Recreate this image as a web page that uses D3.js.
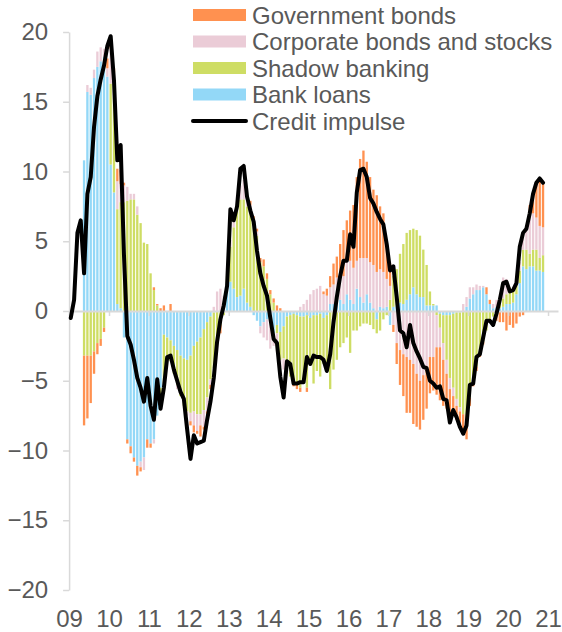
<!DOCTYPE html>
<html><head><meta charset="utf-8">
<script src="https://cdn.jsdelivr.net/npm/d3@7"></script>
<style>
body{margin:0;background:#fff}
svg{display:block}
text{font-family:"Liberation Sans",Arial,sans-serif;fill:#595959}
</style>
</head><body>
<svg id="chart" width="562" height="632"></svg>
<script>
// ---- data (monthly, Jan 2009 .. Nov 2020), % of GDP ----
const yearLabels = ["09","10","11","12","13","14","15","16","17","18","19","20","21"];
const yTicks = [-20,-15,-10,-5,0,5,10,15,20];

const bankLoans = [null,null,null,null,
10.8,15.7,15.5,16.7,17.5,17.9,18.2,16.8,
10.5,8.5,0.5,0.2,-1.9,-9.2,-9.7,-10.5,-11.1,-10.8,-10.5,-9.2,
-9.5,-9.2,-7.5,-5.5,-1.7,-1.9,-2.1,-2.5,-2.8,-3.2,-3.4,-3.5,
-3.2,-2.5,-2.2,-1.9,-1.3,-0.8,-0.4,-0.1,0,0,0.2,2.0,
2.1,1.6,1.0,1.1,1.6,0.6,0.3,-0.3,-0.7,-1.1,-0.8,-0.6,
-0.9,-1.6,-1.0,-1.5,-1.1,-0.4,-0.3,-0.2,-0.3,-0.4,-0.4,-0.3,
-0.5,-0.3,-0.3,-0.2,-0.5,-0.3,0.5,0.5,0.6,0.8,0.5,1.2,
0.8,0.5,1.6,1.0,0.6,1.2,0.6,0.2,-0.6,0.3,0.2,0.3,
-1.0,0.3,0.4,0.6,0.5,0.8,1.2,1.7,1.2,1.0,1.0,0.4,
0.4,0.4,0.4,-0.2,-0.3,-0.3,-0.3,-0.2,-0.1,-0.1,0,0.3,
0.9,1.2,1.5,1.5,1.7,1.2,0.5,0.2,0.3,0.2,0.3,0.5,
0.5,0.6,1.2,2.0,3.2,3.0,3.2,3.2,2.9,2.9,2.8];

const shadowBanking = [null,null,null,null,
-3.2,-3.2,-3.2,-2.9,-2.3,-2.0,-1.2,0,
5.8,6.8,6.8,7.6,7.8,7.9,8.0,8.0,6.9,6.3,4.9,4.8,
2.7,1.5,0.4,-0.8,-3.5,-1.3,-1.5,-2.0,-2.5,-2.9,-3.4,-3.7,
-4.1,-4.7,-5.2,-5.5,-5.8,-5.4,-4.5,-4.0,-2.4,-1.0,-0.3,0.5,
2.5,4.4,6.4,6.9,6.4,6.9,6.7,6.0,5.4,3.5,3.2,2.3,
1.2,0.6,-0.6,-2.0,-2.3,-3.8,-4.4,-4.6,-4.8,-5.1,-4.6,-5.2,
-3.3,-4.9,-4.0,-4.5,-3.3,-3.7,-5.6,-4.2,-3.5,-2.6,-2.3,-1.9,
-3.0,-1.4,-1.4,-1.1,-0.9,-0.9,-1.0,-1.3,-1.0,-1.4,-0.6,-0.3,
0.8,2.2,2.6,3.5,4.3,4.8,4.6,4.2,4.6,4.4,3.4,2.9,
1.0,0.1,-0.3,-1.0,-2.0,-3.2,-4.5,-5.3,-6.2,-6.8,-7.4,-8.0,
-6.2,-5.0,-4.0,-3.0,-2.2,-1.4,-0.8,-0.4,-0.2,0.3,0.6,0.7,
1.2,0.9,1.3,0.9,1.2,1.4,0.9,1.2,1.5,0.9,1.2];

const corporateBonds = [null,null,null,null,
0,0.5,0.5,0.6,1.1,1.0,0.6,0.6,
2.5,1.8,2.0,1.3,1.2,1.0,0.4,0.4,0.6,-0.4,-0.9,0,
0,-0.3,0,0,0,-0.3,0,0,-0.3,0,0,-0.3,
-0.6,-1.0,-1.2,-0.8,-1.2,-1.0,-0.4,0.3,1.4,1.6,0.9,0.6,
0.5,0.8,0.9,1.0,1.4,1.2,0.6,0.3,0.3,-0.5,-1.1,-1.5,
-1.8,-0.9,-1.3,-0.5,-0.8,-0.3,0,0,0,0.3,0.5,0.8,
1.2,1.5,1.6,1.8,1.2,1.1,1.2,1.4,1.8,1.6,2.0,2.4,
2.8,2.6,2.0,2.8,3.2,2.6,2.9,3.1,2.8,2.7,2.6,2.0,
1.0,-1.0,-2.3,-2.8,-3.1,-3.3,-3.5,-3.8,-4.5,-5.0,-4.6,-4.0,
-3.3,-3.3,-2.3,-1.4,-1.2,-1.0,-0.8,-0.6,-0.5,-0.3,0.5,0.7,
0.8,0.5,0.4,0.3,0.1,0,0,0.3,0.5,0.3,1.5,1.1,
0,0,0,0.6,1.2,1.6,2.6,2.6,2.3,2.3,2.0];

const governmentBonds = [null,null,null,null,
-5.0,-4.5,-3.4,-1.6,-0.8,-0.5,-0.3,0.7,
0.3,0.3,0.9,1.0,0.2,-0.3,-0.5,-0.3,-0.7,-0.3,0,-0.6,
-0.3,0.2,0.1,0.2,0.4,0,0.5,0,0,0,0,0,
-0.3,-0.5,-0.2,-0.8,-0.2,-0.2,-0.3,0,0,-0.6,0,0,
0,0,0,0,0,0,0.3,0.5,0.2,0.3,0.5,0.4,
0.3,0.3,0.4,0.2,0,0,0,-0.6,-0.5,-0.3,0,-0.3,
0,0,0,0,0.2,0.5,0.8,1.5,1.5,2.4,3.3,2.9,
3.6,4.5,6.0,7.1,7.7,6.9,6.1,5.4,5.5,4.5,4.2,2.8,
1.6,-0.5,-1.5,-2.5,-3.0,-4.0,-3.8,-4.3,-3.8,-3.5,-3.2,-3.0,
-2.6,-2.4,-3.4,-3.8,-3.3,-2.5,-1.8,-1.4,-1.0,-1.1,-1.2,-1.2,
-0.6,-0.4,-0.3,-0.3,-0.2,0.5,0.3,0,-0.5,-0.8,-0.8,-1.4,
-1.0,-1.2,-0.9,-0.4,-0.3,0,0.9,1.4,2.4,3.2,3.1];

const creditImpulse = [
-0.5,0.8,5.6,6.5,2.7,8.4,9.6,13.2,15.4,16.6,17.6,19.0,
19.7,16.5,10.8,11.9,4.0,-1.8,-2.4,-3.5,-4.8,-5.5,-6.5,-4.8,
-6.8,-7.8,-4.9,-7.0,-5.5,-3.3,-3.2,-4.2,-5.0,-5.8,-6.3,-8.5,
-10.6,-8.9,-9.5,-9.4,-9.3,-7.8,-6.5,-4.8,-2.2,-0.6,0.4,1.8,
7.3,6.5,7.5,10.2,10.4,8.2,7.2,6.4,4.3,2.7,1.8,1.1,
-0.5,-2.0,-2.3,-4.7,-6.2,-3.6,-3.8,-5.2,-5.2,-5.1,-5.1,-3.3,
-3.8,-3.2,-3.3,-3.3,-3.5,-4.3,-3.1,-0.8,1.0,2.5,3.6,3.6,
5.5,4.6,8.5,10.1,10.2,9.6,8.1,7.7,7.1,6.6,6.2,4.8,
2.9,3.2,1.0,-1.4,-1.6,-2.6,-1.0,-2.3,-2.9,-3.4,-4.0,-4.1,
-5.0,-5.2,-5.5,-5.4,-6.3,-6.4,-8.0,-7.1,-7.6,-8.3,-8.8,-8.2,
-5.3,-5.2,-3.3,-3.1,-1.9,-0.7,-0.7,-1.0,-0.2,0.8,2.0,2.1,
1.4,1.5,2.0,4.6,5.6,5.9,7.0,8.4,9.2,9.5,9.2];

const seriesNames = ["Government bonds","Corporate bonds and stocks","Shadow banking","Bank loans","Credit impulse"];
const seriesColors = ["#FF9150","#EBCCD7","#CEDD64","#93D8F7","#000000"];

// ---- layout ----
const svg = d3.select("#chart");
const nSlots = 147;               // Jan 2009 .. Mar 2021 slots on the axis
const x0 = 69.1, x1 = 558;
const xLin = d3.scaleLinear().domain([0, nSlots]).range([x0, x1]);
const xBand = d3.scaleBand().domain(d3.range(nSlots)).range([x0, x1]).paddingInner(0.3).paddingOuter(0.15);
const y = d3.scaleLinear().domain([-20, 20]).range([590, 32]);

// ---- stacked bars ----
const rows = bankLoans.map((b, i) => ({
  i, B: b, S: shadowBanking[i], C: corporateBonds[i], G: governmentBonds[i]
})).filter(r => r.B !== null);
const keys = ["B","S","C","G"];
const keyColor = {B: seriesColors[3], S: seriesColors[2], C: seriesColors[1], G: seriesColors[0]};
const stacked = d3.stack().keys(keys).offset(d3.stackOffsetDiverging)(rows);

svg.append("g").selectAll("g").data(stacked).join("g")
  .attr("fill", s => keyColor[s.key])
  .selectAll("rect").data(s => s.filter(d => d[1] !== d[0])).join("rect")
  .attr("x", d => xBand(d.data.i))
  .attr("width", xBand.bandwidth())
  .attr("y", d => y(Math.max(d[0], d[1])))
  .attr("height", d => Math.abs(y(d[0]) - y(d[1])));

// ---- axes ----
const axisColor = "#D9D9D9";
const fs = "24px";

const xAxis = svg.append("g").attr("transform", `translate(0,${y(0)})`)
  .call(d3.axisBottom(xLin).tickValues(d3.range(0, nSlots, 12)).tickSize(5).tickSizeOuter(0).tickFormat(""));
xAxis.select(".domain").attr("stroke", axisColor).attr("stroke-width", 2);
xAxis.selectAll(".tick line").attr("stroke", axisColor).attr("stroke-width", 1.5);

const xLabels = svg.append("g").attr("transform", `translate(0,${y(-20)})`)
  .call(d3.axisBottom(xLin).tickValues(d3.range(0, nSlots, 12)).tickSize(0).tickPadding(20)
    .tickFormat((d, k) => yearLabels[k]));
xLabels.select(".domain").remove();
xLabels.selectAll("text").attr("font-size", fs).attr("fill", "#595959")
  .attr("font-family", '"Liberation Sans",Arial,sans-serif');

const yAxis = svg.append("g").attr("transform", `translate(${x0},0)`)
  .call(d3.axisLeft(y).tickValues(yTicks).tickSize(6).tickSizeOuter(0).tickPadding(15));
yAxis.select(".domain").attr("stroke", axisColor).attr("stroke-width", 1.5);
yAxis.selectAll(".tick line").attr("stroke", axisColor).attr("stroke-width", 1.5);
yAxis.selectAll("text").attr("font-size", fs).attr("fill", "#595959")
  .attr("font-family", '"Liberation Sans",Arial,sans-serif');

// ---- credit impulse line ----
const line = d3.line().x((v, i) => xBand(i) + xBand.bandwidth() / 2).y(v => y(v));
svg.append("path").datum(creditImpulse)
  .attr("d", line).attr("fill", "none").attr("stroke", "#000")
  .attr("stroke-width", 4).attr("stroke-linejoin", "round").attr("stroke-linecap", "round");

// ---- legend ----
const lg = svg.append("g");
seriesNames.forEach((name, k) => {
  const cy = 15 + 26.5 * k;
  if (k < 4) {
    lg.append("rect").attr("x", 193).attr("y", cy - 6).attr("width", 53).attr("height", 12).attr("fill", seriesColors[k]);
  } else {
    lg.append("line").attr("x1", 193).attr("x2", 246).attr("y1", cy).attr("y2", cy)
      .attr("stroke", seriesColors[k]).attr("stroke-width", 4).attr("stroke-linecap", "round");
  }
  lg.append("text").attr("x", 252).attr("y", cy).attr("dy", "0.36em")
    .attr("font-size", fs).text(name);
});
</script>
</body></html>
